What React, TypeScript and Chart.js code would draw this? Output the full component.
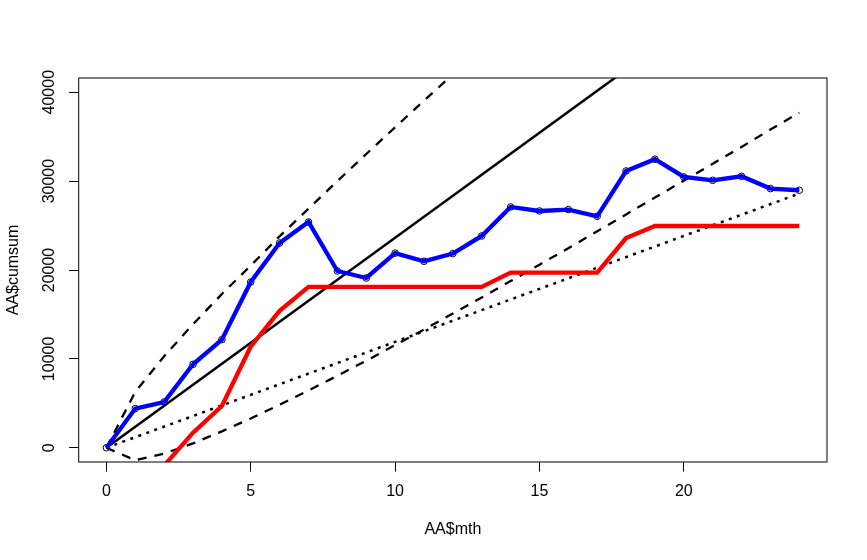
import { useEffect, useRef } from 'react';
import { Chart, registerables } from 'chart.js';

Chart.register(...registerables);

// months on the x axis
const months = [0, 1, 2, 3, 4, 5, 6, 7, 8, 9, 10, 11, 12, 13, 14, 15, 16, 17, 18, 19, 20, 21, 22, 23, 24];

// AA$cumsum (blue, with points)
const cumsum = [
  0, 4410, 5150, 9390, 12170, 18650, 23040, 25400, 19890, 19100, 21900, 20980, 21850,
  23830, 27090, 26640, 26800, 26040, 31140, 32460, 30470, 30090, 30540, 29160, 28970,
];

// red series (starts below the visible range)
const redLine = [
  null, null, -2000, 1700, 4700, 11400, 15400, 18100, 18100, 18100, 18100, 18100, 18100,
  18100, 19700, 19700, 19700, 19700, 23600, 24950, 24950, 24950, 24950, 24950, 24950,
];

// dashed upper / lower bands
const upperBand = [
  0, 6300, 10300, 13900, 17300, 20500, 23800, 26900, 30000, 33050, 36050, 39050, 42000,
  44900, 47800, 50700, 53550, 56400, 59250, 62050, 64850, 67650, 70450, 73200, 76000,
];
const lowerBand = [
  0, -1400, -650, 500, 1850, 3300, 4850, 6450, 8100, 9800, 11550, 13300, 15100,
  16900, 18750, 20600, 22450, 24350, 26250, 28150, 30050, 31950, 33850, 35800, 37700,
];

// straight solid and dotted lines
const solidX = [0, 24];
const solidY = [0, 56700];
const dottedX = [0, 24];
const dottedY = [0, 28600];

const xTicks = [0, 5, 10, 15, 20];
const yTicks = [0, 10000, 20000, 30000, 40000];
const yTickLabels = ['0', '10000', '20000', '30000', '40000'];

const FONT = '"Liberation Sans", Arial, sans-serif';

const pairs = (xs: number[], ys: (number | null)[]) => xs.map((x, i) => ({ x, y: ys[i] }));

const framePlugin = {
  id: 'rframe',
  afterDraw(chart: any) {
    const { ctx, chartArea, scales } = chart;
    ctx.save();
    ctx.strokeStyle = '#000';
    ctx.lineWidth = 1;
    ctx.strokeRect(chartArea.left, chartArea.top, chartArea.right - chartArea.left, chartArea.bottom - chartArea.top);

    ctx.fillStyle = '#000';
    ctx.font = `16px ${FONT}`;
    ctx.textAlign = 'center';
    ctx.textBaseline = 'middle';

    // rotated y tick labels
    yTicks.forEach((v, i) => {
      const py = scales.y.getPixelForValue(v);
      ctx.save();
      ctx.translate(50, py);
      ctx.rotate(-Math.PI / 2);
      ctx.fillText(yTickLabels[i], 0, 0);
      ctx.restore();
    });

    // axis titles
    const midY = (chartArea.top + chartArea.bottom) / 2;
    const midX = (chartArea.left + chartArea.right) / 2;
    ctx.save();
    ctx.translate(14, midY);
    ctx.rotate(-Math.PI / 2);
    ctx.fillText('AA$cumsum', 0, 0);
    ctx.restore();
    ctx.fillText('AA$mth', midX, 530);
    ctx.restore();
  },
};

export default function App() {
  const chartRef = useRef<HTMLCanvasElement>(null);
  const chartInstance = useRef<Chart | null>(null);

  useEffect(() => {
    if (!chartRef.current) return;
    if (chartInstance.current) chartInstance.current.destroy();
    const ctx = chartRef.current.getContext('2d');
    if (!ctx) return;

    Chart.defaults.font.family = FONT;

    chartInstance.current = new Chart(ctx, {
      type: 'line',
      data: {
        datasets: [
          {
            label: 'cumsum',
            data: pairs(months, cumsum),
            borderColor: '#0000FF',
            borderWidth: 4.3,
            pointRadius: 0,
            order: 0,
            clip: 0,
          },
          {
            // open circles sitting under the blue line
            label: 'cumsum points',
            data: pairs(months, cumsum),
            showLine: false,
            pointRadius: 3.3,
            pointBorderColor: '#000',
            pointBorderWidth: 1,
            pointBackgroundColor: 'rgba(0,0,0,0)',
            order: 1,
            clip: 0,
          },
          {
            label: 'red',
            data: pairs(months, redLine),
            borderColor: '#FF0000',
            borderWidth: 4.3,
            pointRadius: 0,
            order: 2,
            clip: 0,
          },
          {
            label: 'solid',
            data: pairs(solidX, solidY),
            borderColor: '#000',
            borderWidth: 2.5,
            pointRadius: 0,
            order: 3,
            clip: 0,
          },
          {
            label: 'upper',
            data: pairs(months, upperBand),
            borderColor: '#000',
            borderWidth: 2.3,
            borderDash: [9, 8],
            pointRadius: 0,
            order: 4,
            clip: 0,
          },
          {
            label: 'lower',
            data: pairs(months, lowerBand),
            borderColor: '#000',
            borderWidth: 2.3,
            borderDash: [9, 8],
            pointRadius: 0,
            order: 5,
            clip: 0,
          },
          {
            label: 'dotted',
            data: pairs(dottedX, dottedY),
            borderColor: '#000',
            borderWidth: 2.5,
            borderDash: [3, 5.5],
            pointRadius: 0,
            order: 6,
            clip: 0,
          },
        ],
      },
      options: {
        responsive: true,
        maintainAspectRatio: false,
        animation: false,
        layout: { padding: { top: 78, right: 40, left: 0, bottom: 0 } },
        plugins: {
          legend: { display: false },
          tooltip: { enabled: false },
        },
        scales: {
          x: {
            type: 'linear',
            min: -0.96,
            max: 24.96,
            afterBuildTicks: (s: any) => {
              s.ticks = xTicks.map((v) => ({ value: v }));
            },
            afterFit: (s: any) => {
              s.height = 98;
            },
            border: { display: false },
            grid: {
              drawOnChartArea: false,
              drawTicks: true,
              tickLength: 9.6,
              color: '#000',
              lineWidth: 1,
            },
            ticks: {
              color: '#000',
              font: { size: 16, family: FONT },
              padding: 10.5,
              maxRotation: 0,
              autoSkip: false,
            },
          },
          y: {
            type: 'linear',
            min: -1600,
            max: 41600,
            afterBuildTicks: (s: any) => {
              s.ticks = yTicks.map((v) => ({ value: v }));
            },
            afterFit: (s: any) => {
              s.width = 78.7;
            },
            border: { display: false },
            grid: {
              drawOnChartArea: false,
              drawTicks: true,
              tickLength: 9.6,
              color: '#000',
              lineWidth: 1,
            },
            ticks: { display: false },
          },
        },
      },
      plugins: [framePlugin],
    });

    return () => {
      if (chartInstance.current) {
        chartInstance.current.destroy();
        chartInstance.current = null;
      }
    };
  }, []);

  return (
    <div style={{ position: 'absolute', left: 0, top: 0, width: 867, height: 560, background: '#fff' }}>
      <canvas ref={chartRef} />
    </div>
  );
}
